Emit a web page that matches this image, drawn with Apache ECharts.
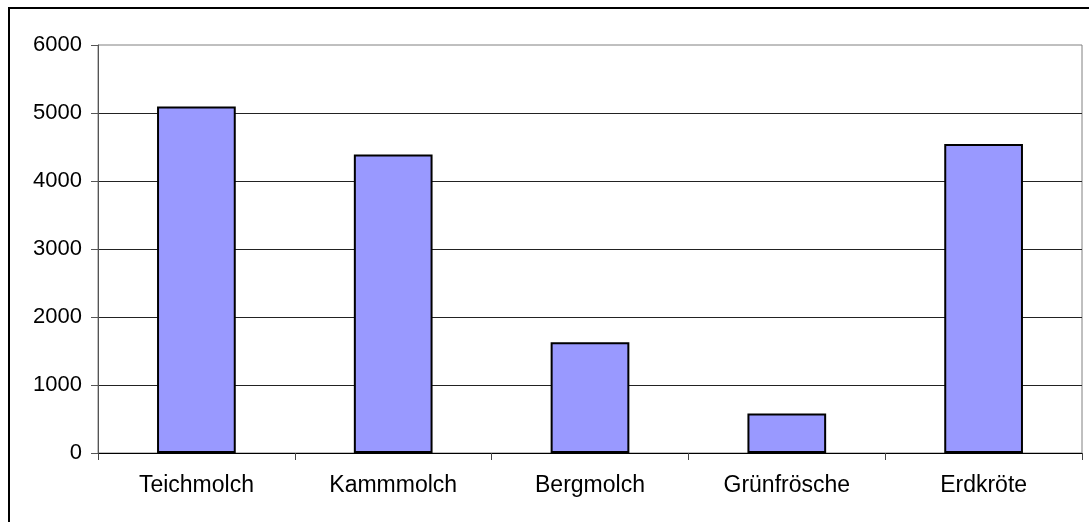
<!DOCTYPE html>
<html>
<head>
<meta charset="utf-8">
<script src="https://cdn.jsdelivr.net/npm/echarts@6/dist/echarts.min.js"></script>
<style>
    html, body { margin: 0; padding: 0; background: #fff; }
    #chart { width: 1089px; height: 522px; }
</style>
</head>
<body>
<div id="chart"></div>
<script>
// Amphibien-Zählung
const categories = ["Teichmolch", "Kammmolch", "Bergmolch", "Grünfrösche", "Erdkröte"]
const counts = [5095, 4390, 1630, 580, 4545]
const yMin = 0
const yMax = 6000
const yStep = 1000

const myChart = echarts.init(document.getElementById("chart"))
myChart.setOption({
    animation: false,
    textStyle: { fontFamily: "Liberation Sans, Arial, sans-serif" },
    graphic: [
        {
            type: "rect",
            shape: { x: 9, y: 8, width: 1100, height: 600 },
            style: { fill: "none", stroke: "#000", lineWidth: 2 },
            silent: true,
        },
    ],
    grid: {
        left: 98,
        top: 45,
        right: 7,
        bottom: 69,
        show: true,
        borderColor: "#808080",
        borderWidth: 1,
        backgroundColor: "transparent",
    },
    xAxis: {
        type: "category",
        data: categories,
        axisLine: { lineStyle: { color: "#000", width: 1 } },
        axisTick: { show: true, length: 7, lineStyle: { color: "#444" } },
        axisLabel: { color: "#000", fontSize: 23, margin: 21 },
    },
    yAxis: {
        type: "value",
        min: yMin,
        max: yMax,
        interval: yStep,
        axisLine: { show: true, lineStyle: { color: "#555", width: 1 } },
        axisTick: { show: true, length: 7, lineStyle: { color: "#555" } },
        axisLabel: {
            color: "#000",
            fontSize: 22,
            margin: 16,
            formatter: function (value) {
                return String(value)
            },
        },
        splitLine: {
            show: true,
            showMinLine: false,
            showMaxLine: false,
            lineStyle: { color: "#222", width: 1 },
        },
    },
    series: [
        {
            type: "bar",
            data: counts,
            barWidth: "40%",
            itemStyle: { color: "#9999FF", borderColor: "#000", borderWidth: 2 },
        },
    ],
})
</script>
</body>
</html>
